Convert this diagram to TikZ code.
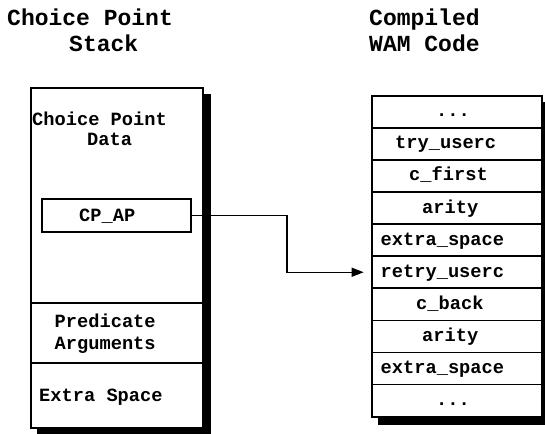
\documentclass[tikz,border=0pt]{standalone}
\usepackage{fontspec}
\setmainfont{Liberation Mono}
\usetikzlibrary{arrows.meta}
\pgfdeclarelayer{edgelayer}
\pgfdeclarelayer{nodelayer}
\pgfsetlayers{edgelayer,nodelayer,main}
\tikzstyle{none} = []
\tikzstyle{title} = [anchor=base west, inner sep=0, font=\bfseries\fontsize{23}{26}\selectfont]
\tikzstyle{boxtext} = [anchor=base west, inner sep=0, font=\bfseries\fontsize{18.7}{21}\selectfont]
\tikzstyle{cell} = [draw, fill=white, line width=1.7pt, inner sep=0, minimum width=169.7pt, minimum height=32.1pt]
\tikzstyle{frame} = [draw, fill=white, line width=1.7pt, inner sep=0, minimum width=171.7pt]
\tikzstyle{shadow} = [fill=black]
\tikzstyle{pointer} = [-{Triangle[length=12pt,width=9pt]}, line width=1.5pt, shorten >=7.5pt]

\begin{document}
\begin{tikzpicture}[x=1pt, y=-1pt]
	\useasboundingbox (0, 0) rectangle (545, 433);
	\begin{pgfonlayer}{edgelayer}
		\fill [style=shadow] (37, 94) rectangle (210.7, 436);
		\fill [style=shadow] (378, 101.7) rectangle (549.7, 424.7);
	\end{pgfonlayer}
	\begin{pgfonlayer}{nodelayer}
		\node [style=title] (0) at (7, 26) {Choice Point};
		\node [style=title] (1) at (69, 52) {Stack};
		\node [style=title] (2) at (369, 26) {Compiled};
		\node [style=title] (3) at (369, 52) {WAM Code};
		\node [style=frame, minimum height=215pt] (10) at (116.85, 195.5) {};
		\node [style=frame, minimum height=60pt] (11) at (116.85, 333) {};
		\node [style=frame, minimum height=65pt] (12) at (116.85, 395.5) {};
		\node [style=frame, minimum width=149pt, minimum height=32.7pt] (13) at (116.2, 215.35) {};
		\node [style=boxtext] (14) at (32, 125) {Choice Point};
		\node [style=boxtext] (15) at (87, 145.7) {Data};
		\node [style=boxtext] (16) at (79, 221) {CP\_AP};
		\node [style=boxtext] (17) at (54.5, 327.7) {Predicate};
		\node [style=boxtext] (18) at (54.5, 349.3) {Arguments};
		\node [style=boxtext] (19) at (39, 401.7) {Extra Space};
		\node [style=cell] (20) at (456.85, 111.75) {};
		\node [style=cell] (21) at (456.85, 143.85) {};
		\node [style=cell] (22) at (456.85, 175.95) {};
		\node [style=cell] (23) at (456.85, 208.05) {};
		\node [style=cell] (24) at (456.85, 240.15) {};
		\node [style=cell] (25) at (456.85, 272.25) {};
		\node [style=cell] (26) at (456.85, 304.35) {};
		\node [style=cell] (27) at (456.85, 336.45) {};
		\node [style=cell] (28) at (456.85, 368.55) {};
		\node [style=cell] (29) at (456.85, 400.65) {};
		\node [style=boxtext] (30) at (436, 116.75) {...};
		\node [style=boxtext] (31) at (395, 148.85) {try\_userc};
		\node [style=boxtext] (32) at (409, 180.95) {c\_first};
		\node [style=boxtext] (33) at (422, 213.05) {arity};
		\node [style=boxtext] (34) at (380.5, 245.15) {extra\_space};
		\node [style=boxtext] (35) at (380.5, 277.25) {retry\_userc};
		\node [style=boxtext] (36) at (416, 309.35) {c\_back};
		\node [style=boxtext] (37) at (422, 341.45) {arity};
		\node [style=boxtext] (38) at (380.5, 373.55) {extra\_space};
		\node [style=boxtext] (39) at (436, 405.65) {...};
		\coordinate (40) at (287, 215.35);
	\end{pgfonlayer}
	\draw [style=pointer] (13.east) -- (40) |- (25.west);
\end{tikzpicture}
\end{document}
